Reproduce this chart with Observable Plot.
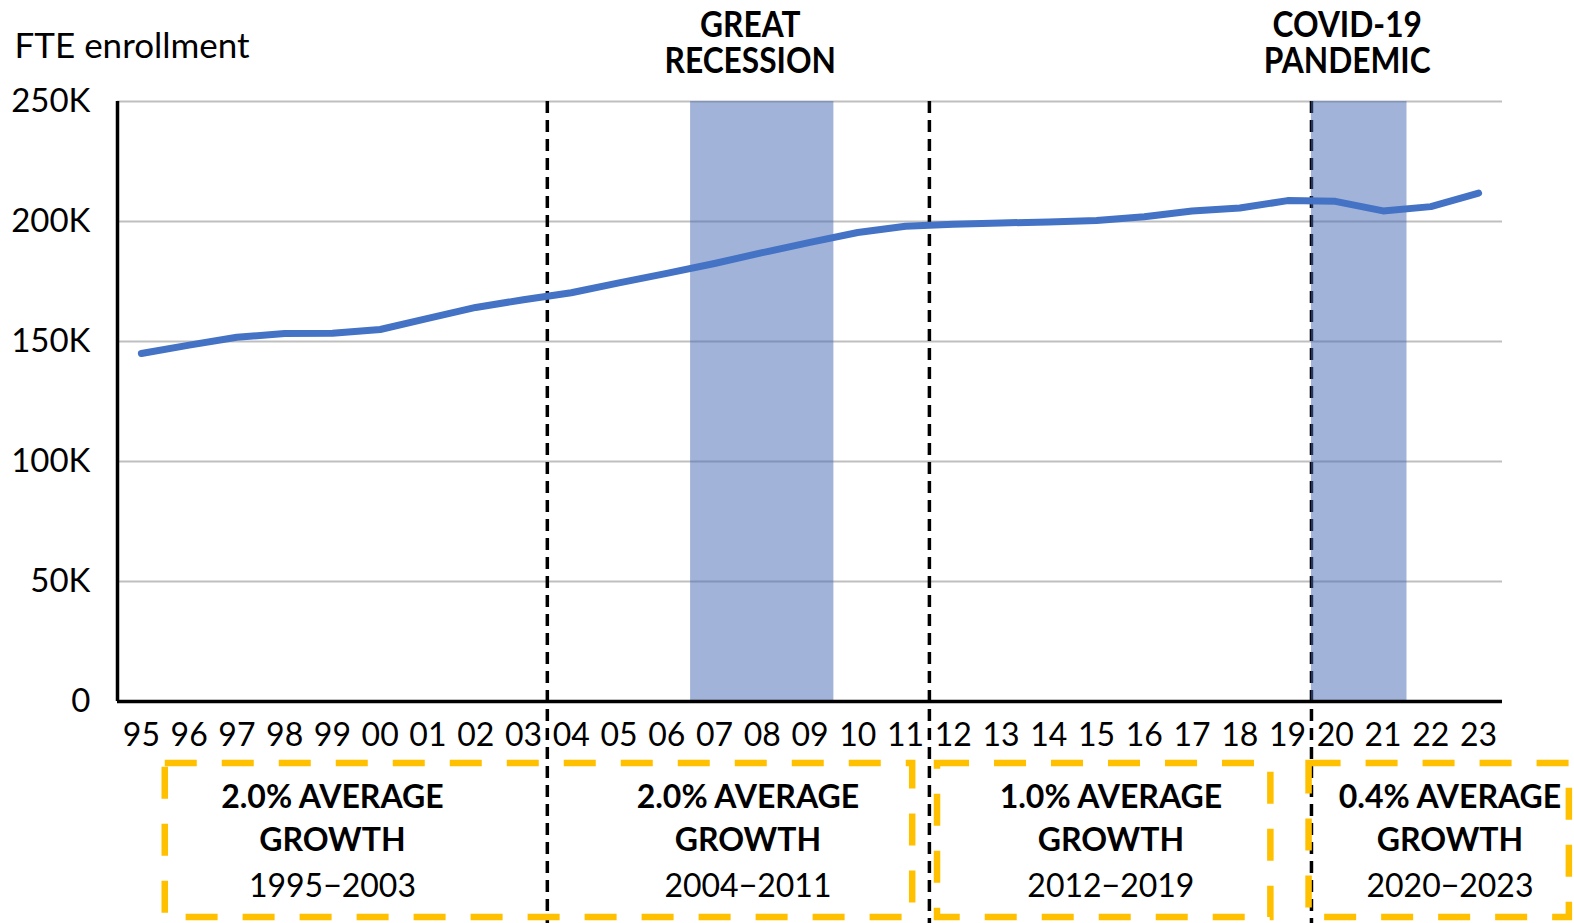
<!DOCTYPE html>
<html>
<head>
<meta charset="utf-8">
<script src="https://cdn.jsdelivr.net/npm/d3@7"></script>
<script src="https://cdn.jsdelivr.net/npm/@observablehq/plot@0.6"></script>
<style>
  html, body { margin: 0; padding: 0; background: #fff; }
  #chart svg { display: block; }
</style>
</head>
<body>
<div id="chart"></div>
<script>
// Fiscal years shown on the axis and full-time-equivalent enrollment for each
const years = [1995, 1996, 1997, 1998, 1999, 2000, 2001, 2002, 2003, 2004,
               2005, 2006, 2007, 2008, 2009, 2010, 2011, 2012, 2013, 2014,
               2015, 2016, 2017, 2018, 2019, 2020, 2021, 2022, 2023];
const fteEnrollment = [145000, 148500, 151800, 153300, 153400, 155000, 159600, 164200, 167400, 170300,
                       174400, 178400, 182500, 187000, 191300, 195400, 198000, 198900, 199400, 199800,
                       200400, 202000, 204400, 205600, 208700, 208400, 204400, 206200, 211800];
const yTicks = [0, 50000, 100000, 150000, 200000, 250000];

// Shaded economic events
const recessionYears = [2007, 2008, 2009];
const pandemicYears = [2020, 2021];
const eventLabels = ["GREAT\nRECESSION", "COVID-19\nPANDEMIC"];

// Growth periods summarised under the axis
const periodStarts = [1995, 2004, 2012, 2020];
const periodEnds = [2003, 2011, 2019, 2023];
const growthRates = ["2.0%", "2.0%", "1.0%", "0.4%"];
const periodLabelYears = [1999, 2007.7, 2015.3, 2022.4];

// Dashed note boxes under the axis (in year units)
const boxStarts = [1995.5, 2011.67, 2019.45];
const boxEnds = [2011.15, 2018.65, 2024.9];

const series = years.map((year, i) => ({year, value: fteEnrollment[i]}));
const events = [recessionYears, pandemicYears].map((ys, i) => ({
  x1: ys[0] - 0.5,
  x2: ys[ys.length - 1] + 0.5,
  center: d3.mean(ys),
  label: eventLabels[i]
}));
const periods = periodStarts.map((start, i) => ({
  start, end: periodEnds[i], rate: growthRates[i], at: periodLabelYears[i]
}));
const dividers = periods.slice(0, -1).map(p => p.end + 0.5);
const boxes = boxStarts.map((x1, i) => ({x1, x2: boxEnds[i]}));

const font = "Lato, 'Open Sans', sans-serif";

const chart = Plot.plot({
  width: 1574,
  height: 923,
  marginLeft: 117,
  marginRight: 72,
  marginTop: 101,
  marginBottom: 222,
  style: {fontFamily: font, fontSize: "32px", color: "#000", background: "#fff"},
  x: {type: "linear", domain: [1994.5, 2023.5]},
  y: {domain: [0, 250000]},
  marks: [
    Plot.gridY(yTicks, {stroke: "#bfbfbf", strokeOpacity: 1, strokeWidth: 2}),
    Plot.ruleX(dividers, {stroke: "#000", strokeWidth: 3.5, strokeDasharray: "12,7", insetBottom: -222}),
    Plot.rect(events, {x1: "x1", x2: "x2", y1: 0, y2: 250000, fill: "#4468B4", fillOpacity: 0.5}),
    Plot.ruleX([1994.5], {y1: 0, y2: 250000, stroke: "#000", strokeWidth: 3.5}),
    Plot.ruleY([0], {stroke: "#000", strokeWidth: 3.5}),
    Plot.axisY({
      ticks: yTicks,
      tickFormat: d => d === 0 ? "0" : `${d / 1000}K`,
      tickSize: 0,
      tickPadding: 27,
      label: null,
      fontSize: 33
    }),
    Plot.axisX({
      ticks: years,
      tickFormat: d => String(d).slice(2),
      tickSize: 0,
      tickPadding: 22,
      label: null,
      fontSize: 32
    }),
    Plot.line(series, {x: "year", y: "value", stroke: "#4472C4", strokeWidth: 7, strokeLinecap: "round", strokeLinejoin: "round"}),
    Plot.text(["FTE enrollment"], {
      frameAnchor: "top-left", textAnchor: "start", lineAnchor: "middle",
      dx: -103, dy: -55, fontSize: 35
    }),
    Plot.text(events, {
      x: "center", text: "label", frameAnchor: "top", lineAnchor: "bottom",
      dx: -12, dy: -29, fontSize: 36, fontWeight: "bold", lineHeight: 1,
      className: "event-label"
    }),
    Plot.rect(boxes, {
      x1: "x1", x2: "x2", fill: "none", stroke: "#FFC000", strokeWidth: 6.5,
      strokeDasharray: "32,25", insetTop: 662, insetBottom: -216
    }),
    Plot.text(periods, {
      x: "at", text: d => `${d.rate} AVERAGE`, frameAnchor: "bottom", lineAnchor: "middle",
      dy: 96, fontWeight: "bold", fontSize: 32
    }),
    Plot.text(periods, {
      x: "at", text: () => "GROWTH", frameAnchor: "bottom", lineAnchor: "middle",
      dy: 139, fontWeight: "bold", fontSize: 32
    }),
    Plot.text(periods, {
      x: "at", text: d => `${d.start}\u2212${d.end}`, frameAnchor: "bottom", lineAnchor: "middle",
      dy: 185, fontSize: 32
    })
  ]
});

// Narrow the event headings horizontally around their own anchor
d3.select(chart).selectAll("g.event-label text").each(function() {
  const t = this.getAttribute("transform") || "";
  const x = +this.getAttribute("x") || 0;
  const y = +this.getAttribute("y") || 0;
  this.setAttribute("transform", `${t} translate(${x},${y}) scale(0.88,1) translate(${-x},${-y})`);
});

document.getElementById("chart").append(chart);
</script>
</body>
</html>
